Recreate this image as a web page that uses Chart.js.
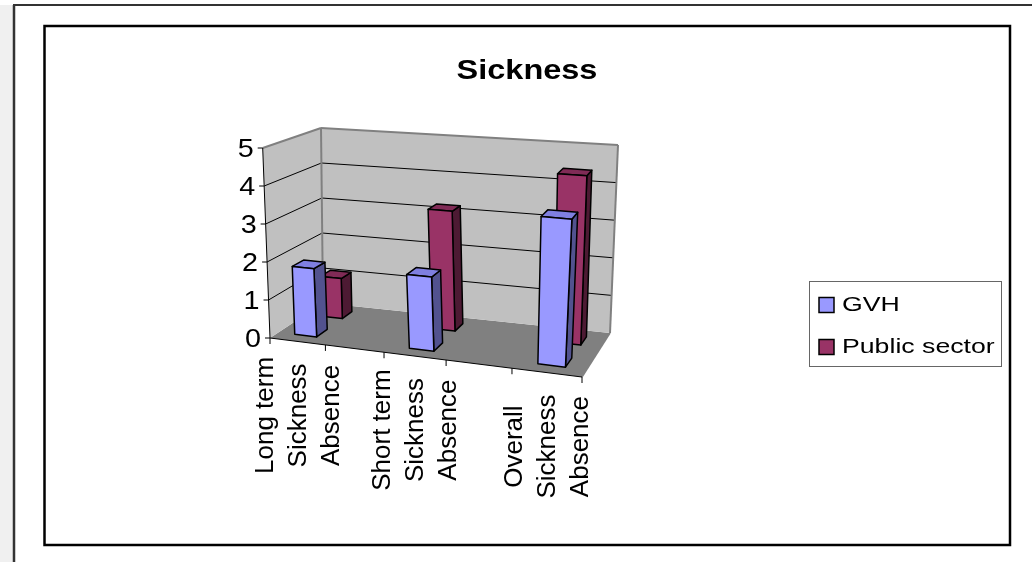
<!DOCTYPE html>
<html>
<head>
<meta charset="utf-8">
<script src="https://cdn.jsdelivr.net/npm/chart.js@4.4.1/dist/chart.umd.min.js"></script>
<style>
  html, body { margin: 0; padding: 0; background: #ffffff; }
  canvas { display: block; }
</style>
</head>
<body>
<canvas id="chart" width="1032" height="562"></canvas>
<script>
// ---- data ----
const categories = [
  ['Long term', 'Sickness', 'Absence'],
  '',
  ['Short term', 'Sickness', 'Absence'],
  '',
  ['Overall', 'Sickness', 'Absence']
];
const seriesNames = ['GVH', 'Public sector'];
const gvhValues = [1.8, null, 1.9, null, 3.7];
const publicValues = [1.1, null, 3.2, null, 4.4];
const yTickValues = [0, 1, 2, 3, 4, 5];
const chartTitle = 'Sickness';

// ---- look ----
const FONT = "'Liberation Sans', Arial, sans-serif";
const faceColors = [
  { front: '#9999ff', top: '#7f7fe0', side: '#52528f' },
  { front: '#993366', top: '#802b56', side: '#4d1a33' }
];

// Perspective box of the plot: bottom (floor) and top quads, corners ordered
// front-left, front-right, back-right, back-left.
const floorQuad = [[270, 338], [582, 377], [610, 333], [323, 303]];
const roofQuad  = [[262.7, 148], [595, 174], [618, 145], [321, 128]];

function squareToQuad(q) {
  const [p0, p1, p2, p3] = q;
  const dx1 = p1[0] - p2[0], dx2 = p3[0] - p2[0], dx3 = p0[0] - p1[0] + p2[0] - p3[0];
  const dy1 = p1[1] - p2[1], dy2 = p3[1] - p2[1], dy3 = p0[1] - p1[1] + p2[1] - p3[1];
  const det = dx1 * dy2 - dx2 * dy1;
  const g = (dx3 * dy2 - dx2 * dy3) / det;
  const h = (dx1 * dy3 - dx3 * dy1) / det;
  const a = p1[0] - p0[0] + g * p1[0], b = p3[0] - p0[0] + h * p3[0], c = p0[0];
  const d = p1[1] - p0[1] + g * p1[1], e = p3[1] - p0[1] + h * p3[1], f = p0[1];
  return (u, w) => {
    const z = g * u + h * w + 1;
    return [(a * u + b * w + c) / z, (d * u + e * w + f) / z];
  };
}
const floorMap = squareToQuad(floorQuad);
const roofMap = squareToQuad(roofQuad);

// u: across categories (0..1), v: value fraction (0..1), w: depth (0 front .. 1 back)
function P(u, v, w) {
  const b = floorMap(u, w), t = roofMap(u, w);
  return [b[0] + (t[0] - b[0]) * v, b[1] + (t[1] - b[1]) * v];
}

function poly(ctx, pts, fill, stroke, lw) {
  ctx.beginPath();
  ctx.moveTo(pts[0][0], pts[0][1]);
  for (let i = 1; i < pts.length; i++) ctx.lineTo(pts[i][0], pts[i][1]);
  ctx.closePath();
  if (fill) { ctx.fillStyle = fill; ctx.fill(); }
  if (stroke) { ctx.strokeStyle = stroke; ctx.lineWidth = lw || 1; ctx.stroke(); }
}
function line(ctx, a, b, color, lw) {
  ctx.beginPath();
  ctx.moveTo(a[0], a[1]);
  ctx.lineTo(b[0], b[1]);
  ctx.strokeStyle = color;
  ctx.lineWidth = lw || 1;
  ctx.stroke();
}
function stretchedText(ctx, str, x, y, font, sx, sy, align, baseline) {
  ctx.save();
  ctx.translate(x, y);
  ctx.scale(sx, sy);
  ctx.font = font;
  ctx.textAlign = align;
  ctx.textBaseline = baseline || 'alphabetic';
  ctx.fillStyle = '#000';
  ctx.fillText(str, 0, 0);
  ctx.restore();
}

const box3d = {
  id: 'box3d',
  beforeDraw(chart) {
    const ctx = chart.ctx;
    ctx.save();
    // page frame
    ctx.fillStyle = '#ffffff';
    ctx.fillRect(0, 0, 1032, 562);
    ctx.fillStyle = '#f0f0f0';
    ctx.fillRect(0, 5, 13, 557);
    line(ctx, [14, 5], [14, 562], '#333', 2.5);
    line(ctx, [13, 5], [1032, 5], '#333', 2);
    // chart box
    ctx.strokeStyle = '#000';
    ctx.lineWidth = 2.5;
    ctx.strokeRect(44.5, 26, 965.5, 519);

    // title
    stretchedText(ctx, chartTitle, 527, 79, 'bold 28px ' + FONT, 1.16, 1, 'center');

    // walls and floor
    const wallFill = '#c0c0c0', edge = '#808080';
    poly(ctx, [P(0, 0, 0), P(1, 0, 0), P(1, 0, 1), P(0, 0, 1)], '#808080');
    poly(ctx, [P(0, 0, 0), P(0, 0, 1), P(0, 1, 1), P(0, 1, 0)], wallFill);
    poly(ctx, [P(0, 0, 1), P(1, 0, 1), P(1, 1, 1), P(0, 1, 1)], wallFill);

    // gridlines from the value scale
    const ys = chart.scales.y, area = chart.chartArea;
    const vOf = (val) => (area.bottom - ys.getPixelForValue(val)) / (area.bottom - area.top);
    ys.ticks.forEach(t => {
      const v = vOf(t.value);
      if (v <= 0.001 || v >= 0.999) return;
      line(ctx, P(0, v, 0), P(0, v, 1), '#000', 1);
      line(ctx, P(0, v, 1), P(1, v, 1), '#000', 1);
    });
    // wall edges
    line(ctx, P(0, 1, 0), P(0, 1, 1), edge, 2);
    line(ctx, P(0, 1, 1), P(1, 1, 1), edge, 2);
    line(ctx, P(1, 1, 1), P(1, 0, 1), edge, 2);
    line(ctx, P(0, 0, 1), P(0, 1, 1), edge, 2);
    line(ctx, P(1, 0, 0), P(1, 0, 1), edge, 1.5);

    // value axis
    line(ctx, P(0, 0, 0), P(0, 1, 0), '#000', 1);
    ys.ticks.forEach(t => {
      const p = P(0, vOf(t.value), 0);
      line(ctx, [p[0] - 5, p[1]], p, '#000', 1);
      stretchedText(ctx, String(t.value), p[0] - 9, p[1] + 9, '25px ' + FONT, 1.15, 1, 'right');
    });

    // category axis
    const xs = chart.scales.x;
    line(ctx, P(0, 0, 0), P(1, 0, 0), '#000', 1);
    const n = xs.ticks.length;
    for (let i = 0; i <= n; i++) {
      const p = P(i / n, 0, 0);
      line(ctx, p, [p[0], p[1] + 6], '#000', 1);
    }
    xs.ticks.forEach((t, i) => {
      const lbl = chart.data.labels[i];
      const lines = Array.isArray(lbl) ? lbl : (lbl ? [lbl] : []);
      const uc = (xs.getPixelForValue(i) - area.left) / (area.right - area.left);
      const p = P(uc, 0, 0);
      const cy = p[1] + 74;
      lines.forEach((s, j) => {
        const bx = p[0] + 8.5 + 33 * (j - (lines.length - 1) / 2);
        ctx.save();
        ctx.translate(bx, cy);
        ctx.rotate(-Math.PI / 2);
        ctx.font = '26px ' + FONT;
        ctx.textAlign = 'center';
        ctx.textBaseline = 'alphabetic';
        ctx.fillStyle = '#000';
        ctx.fillText(s, 0, 0);
        ctx.restore();
      });
    });

    // legend
    ctx.fillStyle = '#fff';
    ctx.fillRect(809, 281, 193, 86);
    ctx.strokeStyle = '#666';
    ctx.lineWidth = 1;
    ctx.strokeRect(809.5, 281.5, 192, 85);
    chart.data.datasets.forEach((ds, i) => {
      const y = 297.5 + i * 42;
      ctx.fillStyle = ds.backgroundColor;
      ctx.fillRect(819, y, 15, 15);
      ctx.strokeStyle = '#000';
      ctx.lineWidth = 1.5;
      ctx.strokeRect(819, y, 15, 15);
      stretchedText(ctx, ds.label, 842, y + 13, '21px ' + FONT, 1.27, 1, 'left');
    });
    ctx.restore();
  },
  beforeDatasetDraw(chart, args) {
    const ctx = chart.ctx, area = chart.chartArea;
    const k = args.index;
    const values = chart.data.datasets[k].data;
    const w0 = 0.15 + 0.5 * k, w1 = w0 + 0.2;
    const col = faceColors[k];
    const W = area.right - area.left, H = area.bottom - area.top;
    ctx.save();
    ctx.lineJoin = 'round';
    args.meta.data.forEach((el, i) => {
      if (values[i] == null || el.skip || !isFinite(el.y)) return;
      const u0 = (el.x - el.width / 2 - area.left) / W;
      const u1 = (el.x + el.width / 2 - area.left) / W;
      const v = (area.bottom - el.y) / H;
      const vb = (area.bottom - el.base) / H;
      poly(ctx, [P(u1, vb, w0), P(u1, vb, w1), P(u1, v, w1), P(u1, v, w0)], col.side, '#000', 1.5);
      poly(ctx, [P(u0, v, w0), P(u1, v, w0), P(u1, v, w1), P(u0, v, w1)], col.top, '#000', 1.5);
      poly(ctx, [P(u0, vb, w0), P(u1, vb, w0), P(u1, v, w0), P(u0, v, w0)], col.front, '#000', 1.5);
    });
    ctx.restore();
    return false;
  }
};

new Chart(document.getElementById('chart'), {
  type: 'bar',
  data: {
    labels: categories,
    datasets: [
      { label: seriesNames[0], data: gvhValues, backgroundColor: faceColors[0].front },
      { label: seriesNames[1], data: publicValues, backgroundColor: faceColors[1].front }
    ]
  },
  options: {
    responsive: false,
    animation: false,
    layout: { padding: { left: 266, right: 444, top: 148, bottom: 205 } },
    datasets: { bar: { grouped: false, categoryPercentage: 1, barPercentage: 0.4 } },
    plugins: { legend: { display: false }, title: { display: false }, tooltip: { enabled: false } },
    scales: {
      x: { display: false, offset: true },
      y: { display: false, min: 0, max: 5, ticks: { stepSize: 1 } }
    }
  },
  plugins: [box3d]
});
</script>
</body>
</html>
